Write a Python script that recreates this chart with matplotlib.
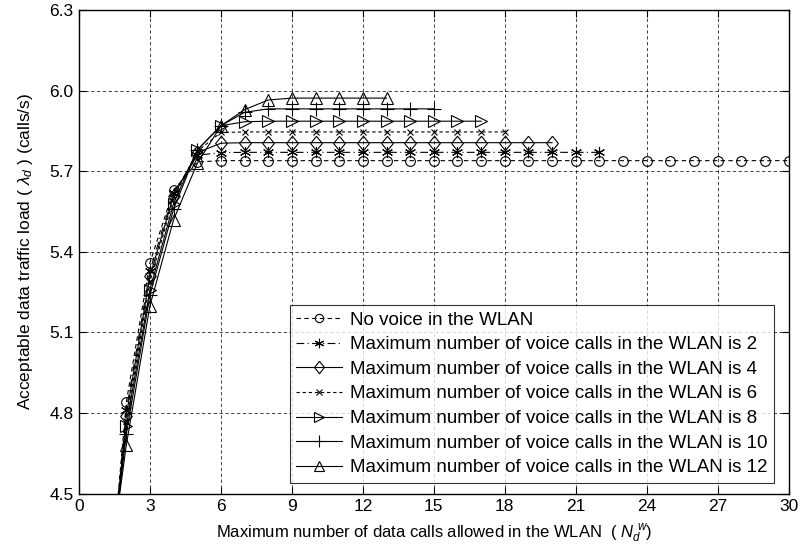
import numpy as np
import matplotlib
matplotlib.use('Agg')
from matplotlib import pyplot as plt

plt.rcParams['font.family'] = ['Liberation Sans', 'DejaVu Sans']
plt.rcParams['mathtext.fontset'] = 'custom'
plt.rcParams['mathtext.it'] = 'Liberation Sans:italic'
plt.rcParams['mathtext.rm'] = 'Liberation Sans'

### Acceptable data load vs. max number of data calls, per voice-call limit
load_voice_0 = [3.84, 4.84, 5.36, 5.63, 5.735] + [5.74] * 25
load_voice_2 = [3.86, 4.81, 5.33, 5.62, 5.76, 5.77] + [5.771] * 16
load_voice_4 = [3.88, 4.79, 5.31, 5.61, 5.77, 5.805] + [5.807] * 14
load_voice_6 = [3.90, 4.77, 5.29, 5.60, 5.775, 5.845] + [5.847] * 12
load_voice_8 = [3.93, 4.75, 5.26, 5.58, 5.78, 5.87, 5.885] + [5.887] * 10
load_voice_10 = [3.97, 4.72, 5.24, 5.56, 5.78, 5.87, 5.92] + [5.933] * 8
load_voice_12 = [4.03, 4.68, 5.20, 5.52, 5.73, 5.87, 5.93, 5.966] + [5.973] * 5

labels = ['No voice in the WLAN',
          'Maximum number of voice calls in the WLAN is 2',
          'Maximum number of voice calls in the WLAN is 4',
          'Maximum number of voice calls in the WLAN is 6',
          'Maximum number of voice calls in the WLAN is 8',
          'Maximum number of voice calls in the WLAN is 10',
          'Maximum number of voice calls in the WLAN is 12']

series = [load_voice_0, load_voice_2, load_voice_4, load_voice_6,
          load_voice_8, load_voice_10, load_voice_12]

# asterisk = 6-spoke star marker; diamond slightly taller than wide
diamond = [(0, 1), (0.8, 0), (0, -1), (-0.8, 0), (0, 1)]
markers = ['o', (6, 2, 0), diamond, 'x', '>', '+', '^']
sizes = [7, 8, 10.5, 5, 8, 10, 8]
styles = [(0, (4, 3)), (0, (7, 3, 1, 3)), '-', (0, (3, 2.5)), '-', '-', '-']

fig = plt.figure(figsize=(8.01, 5.56), dpi=100)
ax = fig.add_axes([0.0986, 0.1124, 0.886, 0.869])

for vals, lab, mk, ms, ls in zip(series, labels, markers, sizes, styles):
    n = np.arange(1, len(vals) + 1)
    ax.plot(n, vals
            , color='black'
            , linestyle=ls
            , linewidth=0.8
            , marker=mk
            , markersize=ms
            , markerfacecolor='none'
            , markeredgecolor='black'
            , markeredgewidth=0.8
            , label=lab
            )

ax.set_xlim(0, 30)
ax.set_ylim(4.5, 6.3)
ax.set_xticks(np.arange(0, 31, 3))
ax.set_yticks(np.arange(4.5, 6.31, 0.3))
ax.set_yticklabels(['%.1f' % v for v in np.arange(4.5, 6.31, 0.3)])
ax.tick_params(direction='in', top=True, right=True, labelsize=12.5, length=5, width=0.8, pad=4)
ax.grid(True, linestyle=(0, (4, 3)), color='black', linewidth=0.6, alpha=0.85)
for sp in ax.spines.values():
    sp.set_linewidth(1.0)

ax.set_xlabel(r'Maximum number of data calls allowed in the WLAN  ( $N_d^{\ w}$)', fontsize=12, labelpad=6)
ax.set_ylabel(r'Acceptable data traffic load ( $\lambda_d$ ) (calls/s)', fontsize=12.5, labelpad=10)

leg = ax.legend(loc='lower right'
                , bbox_to_anchor=(0.979, 0.022)
                , fontsize=13.5
                , frameon=True
                , fancybox=False
                , edgecolor='black'
                , handlelength=2.45
                , handletextpad=0.4
                , borderpad=0.35
                , labelspacing=0.4
                , borderaxespad=0.0
                , markerscale=0.85
                )
leg.get_frame().set_linewidth(0.8)

plt.savefig('out.png', dpi=100)
